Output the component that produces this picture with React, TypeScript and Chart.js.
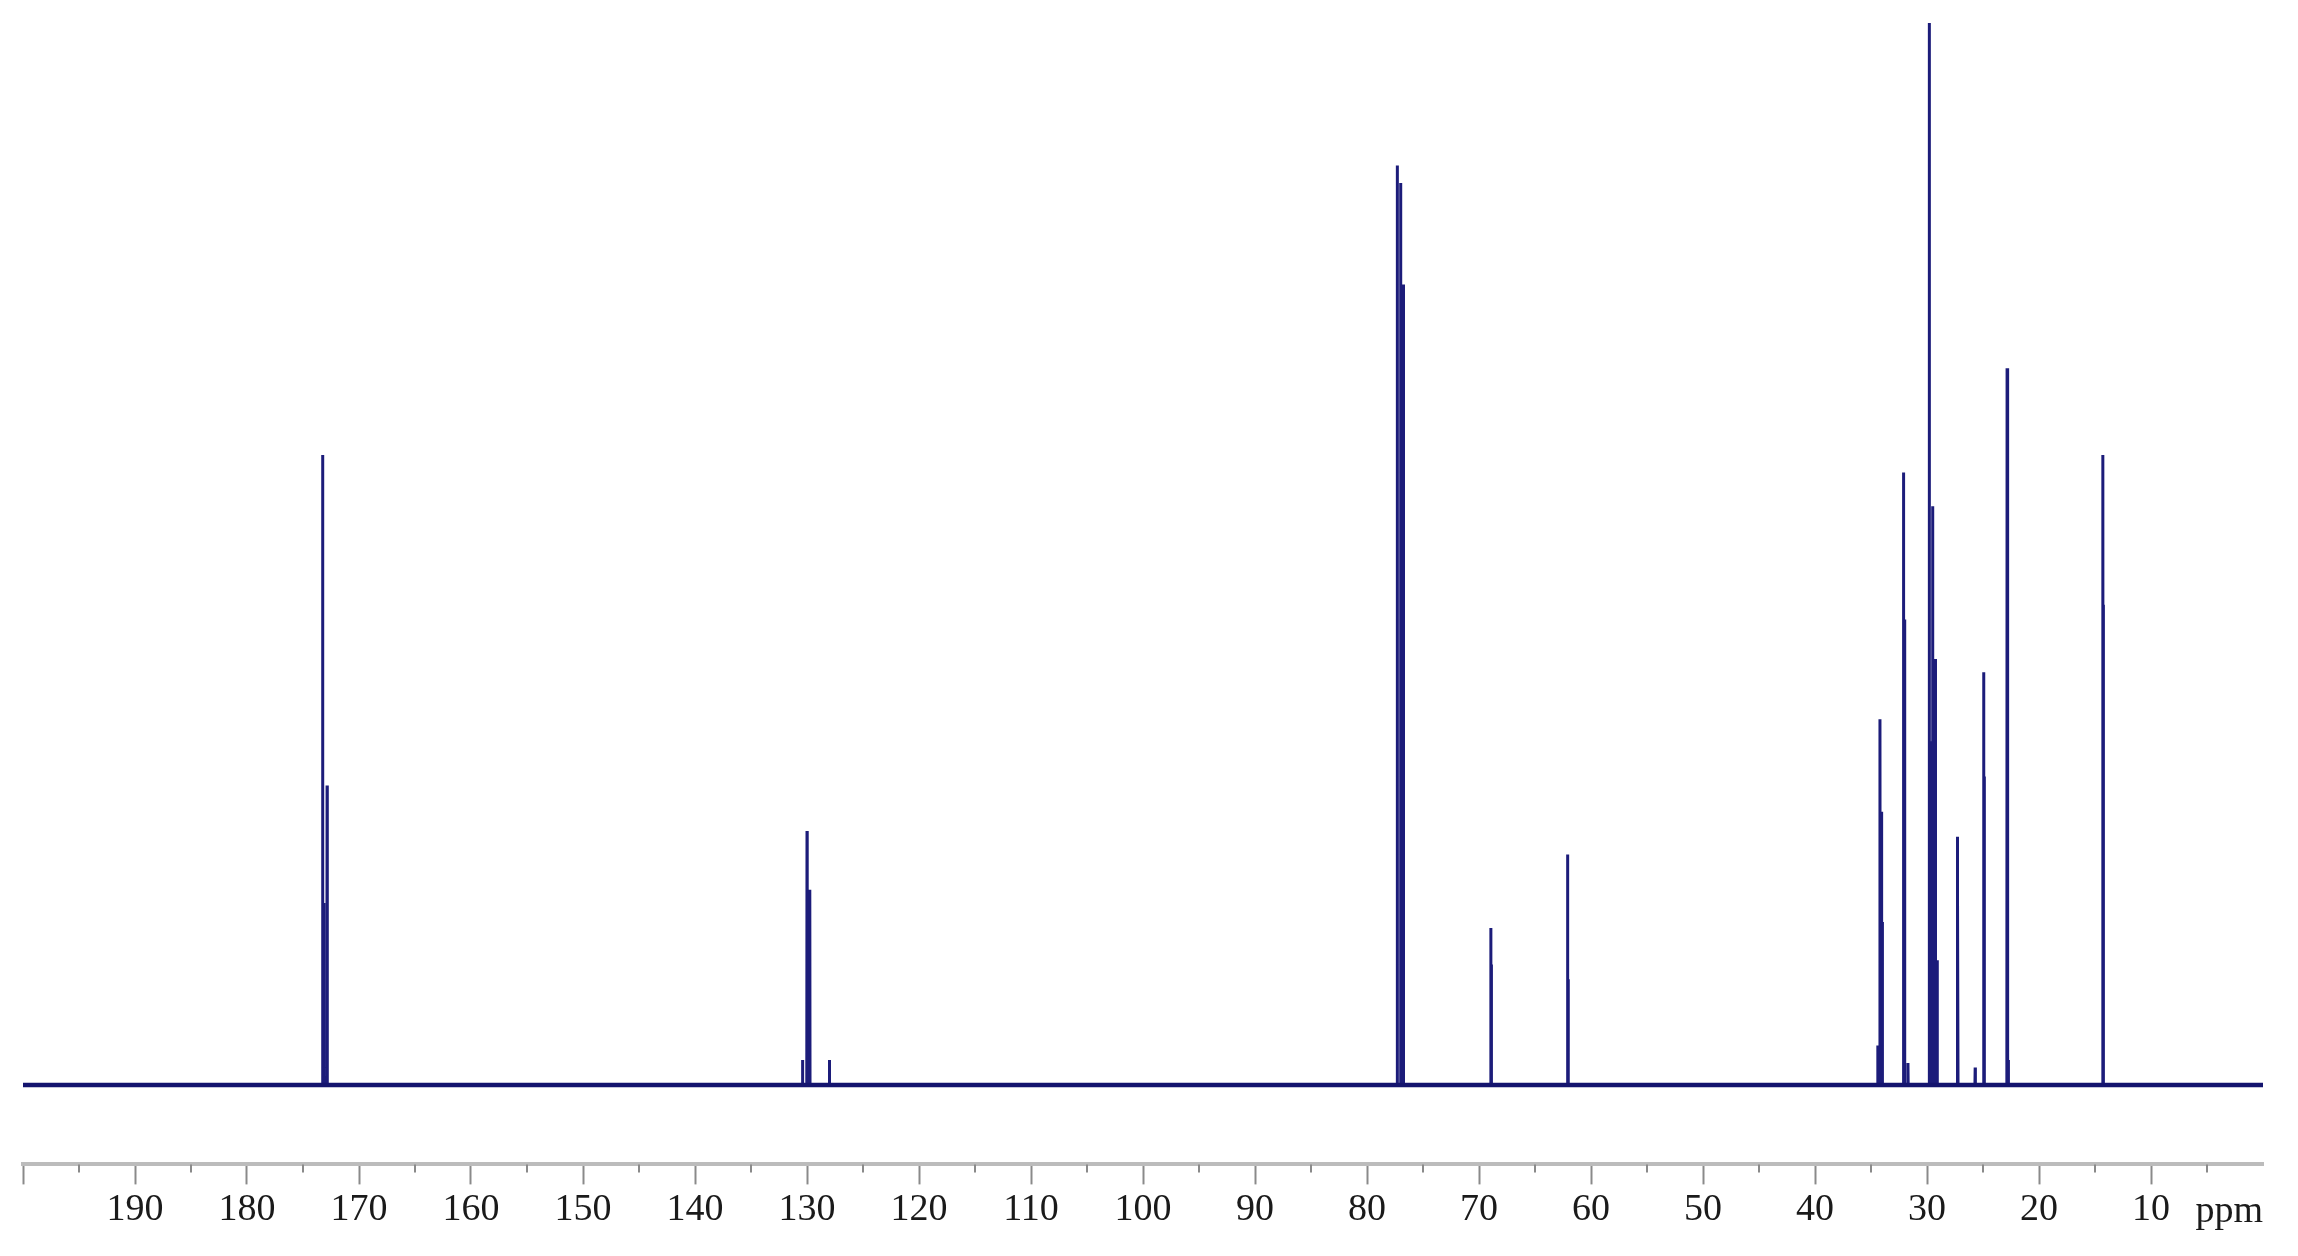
import React, { useEffect, useRef } from "react";
import { Chart, registerables } from "chart.js";

Chart.register(...registerables);

// 13C NMR spectrum: peak positions (ppm) and intensities (arbitrary units)
const PEAK_PPM = [
  173.25, 173.15, 172.85,
  130.4, 130.0, 129.75, 128.0,
  77.3, 77.0, 76.75,
  68.95, 68.9,
  62.1, 62.05,
  34.4, 34.2, 34.1, 34.0,
  32.1, 32.0, 31.7,
  29.8, 29.7, 29.5, 29.25, 29.1,
  27.3, 27.25,
  25.7, 24.95, 24.9,
  22.85, 22.8, 22.75,
  14.3, 14.25,
];
const PEAK_HEIGHT = [
  429, 124, 204,
  17, 173, 133, 17,
  626, 614, 545,
  107, 82,
  157, 72,
  27, 249, 186, 111,
  417, 317, 15,
  723, 234, 394, 290, 85,
  169, 126,
  12, 281, 210,
  488, 121, 17,
  429, 327,
];
const AXIS_RANGE = [0, 200];
const MAJOR_STEP = 10;
const MINOR_TICKS = [5, 15, 25, 35, 45, 55, 65, 75, 85, 95, 105, 115, 125, 135, 145, 155, 165, 175, 185, 195];
const UNIT_LABEL = "ppm";
const Y_MAX = 723;
const Y_MIN = -54;

const HALF_WIDTH = 0.02;

function buildSpectrum() {
  const pts: { x: number; y: number }[] = [];
  pts.push({ x: AXIS_RANGE[1], y: 0 });
  const order = PEAK_PPM.map((p, i) => i).sort((a, b) => PEAK_PPM[b] - PEAK_PPM[a]);
  for (const i of order) {
    const p = PEAK_PPM[i];
    const h = PEAK_HEIGHT[i];
    pts.push({ x: p + HALF_WIDTH, y: 0 });
    pts.push({ x: p, y: h });
    pts.push({ x: p - HALF_WIDTH, y: 0 });
  }
  pts.push({ x: AXIS_RANGE[0], y: 0 });
  return pts;
}

function buildBaseline() {
  return [
    { x: AXIS_RANGE[1], y: 0 },
    { x: AXIS_RANGE[0], y: 0 },
  ];
}

const FONT = { family: "'Liberation Serif', 'Times New Roman', serif", size: 38 };

const minorTickPlugin = {
  id: "minorTicks",
  afterDraw(chart: any) {
    const scale = chart.scales.x;
    const ctx = chart.ctx;
    ctx.save();
    ctx.strokeStyle = "#8a8a8a";
    ctx.lineWidth = 2;
    for (const v of MINOR_TICKS) {
      const x = Math.round(scale.getPixelForValue(v));
      ctx.beginPath();
      ctx.moveTo(x, scale.top);
      ctx.lineTo(x, scale.top + 8);
      ctx.stroke();
    }
    // unit label at the zero end of the axis, right aligned
    ctx.fillStyle = "#1a1a1a";
    ctx.font = `${FONT.size}px ${FONT.family}`;
    ctx.textAlign = "right";
    ctx.textBaseline = "alphabetic";
    ctx.fillText(UNIT_LABEL, scale.getPixelForValue(AXIS_RANGE[0]), 1222);
    ctx.restore();
  },
};

export default function App() {
  const ref = useRef<HTMLCanvasElement | null>(null);

  useEffect(() => {
    document.body.style.margin = "0";
    document.body.style.overflow = "hidden";
    const canvas = ref.current!;
    const chart = new Chart(canvas, {
      type: "line",
      data: {
        datasets: [
          {
            data: buildBaseline(),
            borderColor: "#14146e",
            borderWidth: 4.5,
            pointRadius: 0,
            tension: 0,
            fill: false,
          },
          {
            data: buildSpectrum(),
            borderColor: "#1c1c7a",
            borderWidth: 3,
            pointRadius: 0,
            tension: 0,
            fill: false,
          },
        ],
      },
      options: {
        animation: false,
        responsive: false,
        devicePixelRatio: 1,
        layout: { padding: { left: 23, right: 35, top: 23, bottom: 20 } },
        plugins: { legend: { display: false }, tooltip: { enabled: false } },
        scales: {
          x: {
            type: "linear",
            min: AXIS_RANGE[0],
            max: AXIS_RANGE[1],
            reverse: true,
            position: "bottom",
            border: { display: true, color: "#bcbcbc", width: 4 },
            grid: {
              drawOnChartArea: false,
              drawTicks: true,
              tickLength: 20,
              tickWidth: 2,
              tickColor: (ctx: any) =>
                ctx.tick && ctx.tick.value === AXIS_RANGE[0] ? "rgba(0,0,0,0)" : "#8a8a8a",
            },
            ticks: {
              stepSize: MAJOR_STEP,
              autoSkip: false,
              maxRotation: 0,
              padding: 3,
              color: "#1a1a1a",
              font: FONT,
              callback: (v: any) =>
                v === AXIS_RANGE[0] || v === AXIS_RANGE[1] ? "" : String(v),
            },
          },
          y: {
            type: "linear",
            display: false,
            min: Y_MIN,
            max: Y_MAX,
          },
        },
      },
      plugins: [minorTickPlugin],
    });
    return () => chart.destroy();
  }, []);

  return (
    <div style={{ width: 2298, height: 1256, background: "#fff" }}>
      <canvas ref={ref} width={2298} height={1256} style={{ display: "block" }} />
    </div>
  );
}
